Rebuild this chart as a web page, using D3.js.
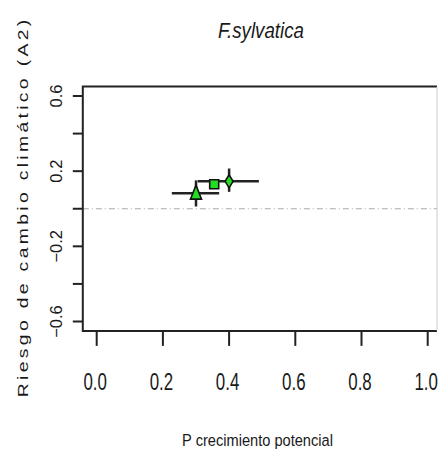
<!DOCTYPE html>
<meta charset="utf-8">
<head>
  <title>F.sylvatica</title>
  <style>
    body { margin: 0; background: #fff; }
    text { font-family: "Liberation Sans", Arial, sans-serif; fill: #1a1a1a; }
  </style>
</head>
<body>
<svg width="439" height="449"></svg>
<script src="https://cdnjs.cloudflare.com/ajax/libs/d3/7.8.5/d3.min.js"></script>
<script>
// one point per scenario marker
var shapes = ['triangle', 'square', 'diamond'];
var xVals = [0.30, 0.355, 0.40];
var yVals = [0.083, 0.13, 0.146];
var xLo = [0.227, 0.345, 0.305];
var xHi = [0.370, 0.365, 0.490];
var yLo = [0.012, 0.115, 0.090];
var yHi = [0.151, 0.145, 0.214];

var xTicks = [0, 0.2, 0.4, 0.6, 0.8, 1.0];
var yTicks = [-0.6, -0.4, -0.2, 0, 0.2, 0.4, 0.6];
var yTickLabels = [-0.6, -0.2, 0.2, 0.6];

var svg = d3.select('svg');

var x = d3.scaleLinear().domain([0, 1]).range([96.7, 427.7]);
var y = d3.scaleLinear().domain([-0.6, 0.6]).range([321.5, 96]);

var boxL = x(-0.042), boxR = 437, boxT = y(0.65), boxB = y(-0.65);

// zero reference line
svg.append('line')
  .attr('x1', boxL).attr('x2', boxR)
  .attr('y1', y(0)).attr('y2', y(0))
  .attr('stroke', '#aaa').attr('stroke-width', 1)
  .attr('stroke-dasharray', '6,3,1,3');

// box
svg.append('path')
  .attr('d', 'M' + boxR + ',' + boxT + 'H' + boxL + 'V' + boxB + 'H' + boxR)
  .attr('fill', 'none').attr('stroke', '#222').attr('stroke-width', 2);
svg.append('line')
  .attr('x1', boxR).attr('x2', boxR).attr('y1', boxT).attr('y2', boxB)
  .attr('stroke', '#ccc').attr('stroke-width', 1);

// x axis ticks
svg.selectAll('.xt').data(xTicks).enter().append('line')
  .attr('x1', d => x(d)).attr('x2', d => x(d))
  .attr('y1', boxB).attr('y2', boxB + 15)
  .attr('stroke', '#222').attr('stroke-width', 2);
svg.selectAll('.xl').data(xTicks).enter().append('g')
  .attr('transform', d => 'translate(' + (x(d) - 1.5) + ',389.5) scale(0.69,1)')
  .append('text')
  .attr('text-anchor', 'middle')
  .style('font-size', '24.5px')
  .text(d => d3.format('.1f')(d));

// y axis ticks
svg.selectAll('.yt').data(yTicks).enter().append('line')
  .attr('x1', boxL - 10).attr('x2', boxL)
  .attr('y1', d => y(d)).attr('y2', d => y(d))
  .attr('stroke', '#222').attr('stroke-width', 2);
svg.selectAll('.yl').data(yTickLabels).enter().append('text')
  .attr('transform', d => 'translate(61.5,' + y(d) + ') rotate(-90)')
  .attr('text-anchor', 'middle')
  .style('font-size', '16.5px')
  .text(d => d3.format('.1f')(d));

// error bars
var pts = shapes.map(function(s, i) {
  return {shape: s, x: xVals[i], y: yVals[i], x0: xLo[i], x1: xHi[i], y0: yLo[i], y1: yHi[i]};
});
var g = svg.append('g');
g.selectAll('.eh').data(pts).enter().append('line')
  .attr('x1', d => x(d.x0)).attr('x2', d => x(d.x1))
  .attr('y1', d => y(d.y)).attr('y2', d => y(d.y))
  .attr('stroke', '#222').attr('stroke-width', 2.5);
g.selectAll('.ev').data(pts).enter().append('line')
  .attr('x1', d => x(d.x)).attr('x2', d => x(d.x))
  .attr('y1', d => y(d.y0)).attr('y2', d => y(d.y1))
  .attr('stroke', '#222').attr('stroke-width', 2.5);

// markers
var green = '#22dd22';
g.selectAll('.pt').data(pts).enter().append('path')
  .attr('transform', d => 'translate(' + x(d.x) + ',' + y(d.y) + ')')
  .attr('d', function(d) {
    if (d.shape === 'triangle') return 'M0,-8L5.5,6L-5.5,6Z';
    if (d.shape === 'square') return 'M-4.5,-4.5H4.5V4.5H-4.5Z';
    return 'M0,-6.5L4,0L0,6.5L-4,0Z';
  })
  .attr('fill', green).attr('stroke', '#111').attr('stroke-width', 1.6);

// title and labels
svg.append('g').attr('transform', 'translate(261,37.5) scale(0.85,1)')
  .append('text').attr('text-anchor', 'middle')
  .style('font-size', '22px').style('font-style', 'italic')
  .text('F.sylvatica');

svg.append('g').attr('transform', 'translate(257.5,446) scale(0.86,1)')
  .append('text').attr('text-anchor', 'middle')
  .style('font-size', '17px')
  .text('P crecimiento potencial');

svg.append('g').attr('transform', 'translate(28,208.5) rotate(-90) scale(1.25,1)')
  .append('text')
  .attr('text-anchor', 'middle')
  .attr('textLength', 302).attr('lengthAdjust', 'spacing')
  .style('font-size', '15.5px')
  .text('Riesgo de cambio climático (A2)');
</script>
</body>
</html>
